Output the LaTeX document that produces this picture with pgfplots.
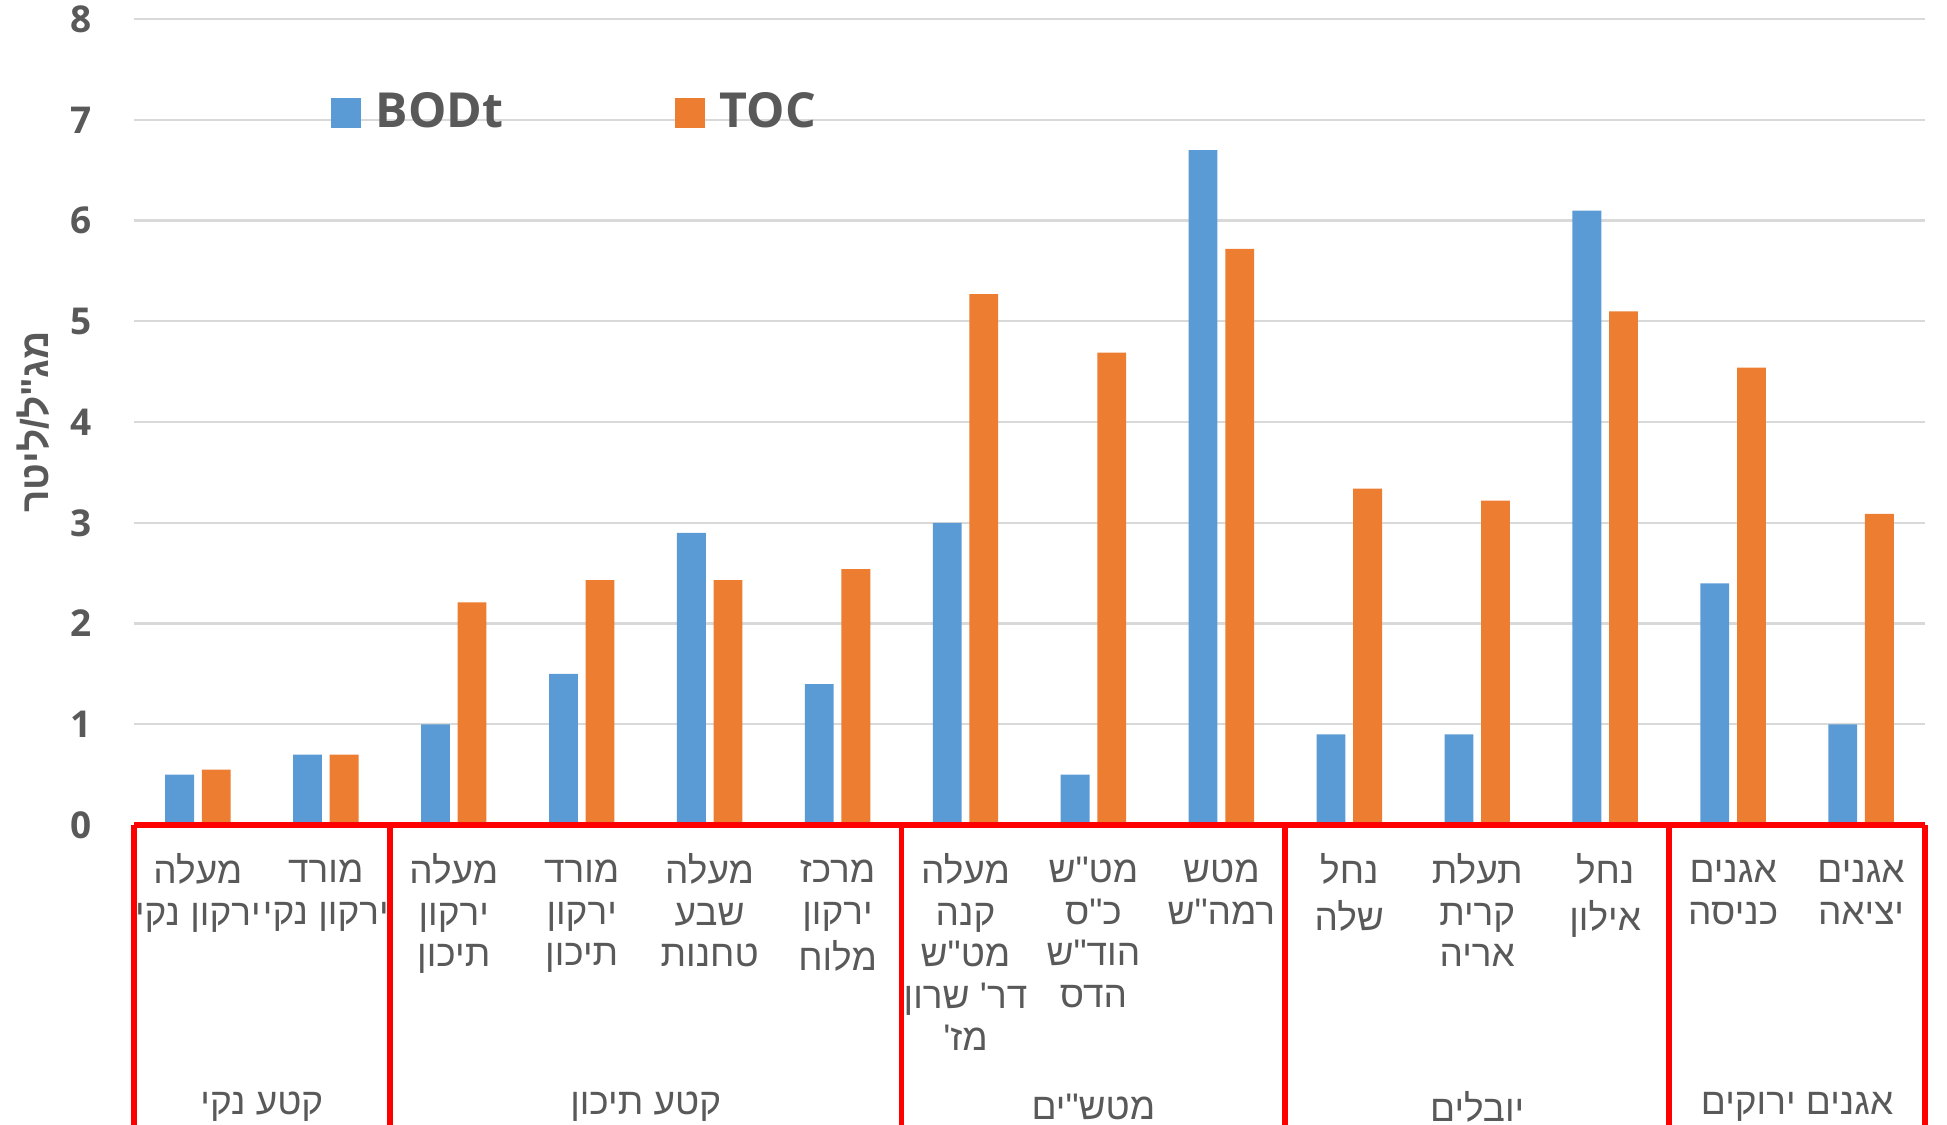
\documentclass[border=0pt]{standalone}
\usepackage{pgfplots}
\pgfplotsset{compat=1.18}
\usepackage{fontspec}
\setmainfont{Open Sans}
\newfontfamily\hebfont[Script=Hebrew]{Liberation Sans}
\TeXXeTstate=1
% Hebrew font plus a strut so every line has the same height
\newcommand{\hf}{\hebfont\strut}
\definecolor{txt}{HTML}{595959}
\definecolor{bodblue}{HTML}{5B9BD5}
\definecolor{tocorange}{HTML}{ED7D31}
\definecolor{gridgray}{HTML}{D9D9D9}

\begin{document}
\begin{tikzpicture}
\begin{axis}[
  name=ax,
  scale only axis, width=460pt, height=207pt,
  ybar=2pt, bar width=7.4pt,
  xmin=-0.5, xmax=13.5, ymin=0, ymax=8,
  xtick={0,...,13},
  xticklabels={
    {{\hf\beginR מעלה\endR}\\{\hf\beginR ירקון נקי\endR}},
    {{\hf\beginR מורד\endR}\\{\hf\beginR ירקון נקי\endR}},
    {{\hf\beginR מעלה\endR}\\{\hf\beginR ירקון\endR}\\{\hf\beginR תיכון\endR}},
    {{\hf\beginR מורד\endR}\\{\hf\beginR ירקון\endR}\\{\hf\beginR תיכון\endR}},
    {{\hf\beginR מעלה\endR}\\{\hf\beginR שבע\endR}\\{\hf\beginR טחנות\endR}},
    {{\hf\beginR מרכז\endR}\\{\hf\beginR ירקון\endR}\\{\hf\beginR מלוח\endR}},
    {{\hf\beginR מעלה\endR}\\{\hf\beginR קנה\endR}\\{\hf\beginR מט"ש\endR}\\{\hf\beginR דר' שרון\endR}\\{\hf\beginR מז'\endR}},
    {{\hf\beginR מט"ש\endR}\\{\hf\beginR כ"ס\endR}\\{\hf\beginR הוד"ש\endR}\\{\hf\beginR הדס\endR}},
    {{\hf\beginR מטש\endR}\\{\hf\beginR רמה"ש\endR}},
    {{\hf\beginR נחל\endR}\\{\hf\beginR שלה\endR}},
    {{\hf\beginR תעלת\endR}\\{\hf\beginR קרית\endR}\\{\hf\beginR אריה\endR}},
    {{\hf\beginR נחל\endR}\\{\hf\beginR אילון\endR}},
    {{\hf\beginR אגנים\endR}\\{\hf\beginR כניסה\endR}},
    {{\hf\beginR אגנים\endR}\\{\hf\beginR יציאה\endR}}
  },
  xticklabel style={align=center, anchor=north, yshift=0.5pt,
    font=\fontsize{9.5}{10.7}\selectfont, text=txt},
  ytick={0,...,8},
  yticklabel style={anchor=east, xshift=-7.4pt, font=\fontsize{9.5}{11}\selectfont\bfseries, text=txt},
  /pgf/number format/assume math mode=true,
  ymajorgrids, grid style={gridgray, line width=0.6pt},
  axis line style={draw=none},
  tick style={draw=none},
  ylabel={\hebfont\beginR מג"ל/ליטר\endR},
  ylabel style={at={(axis description cs:-0.056,0.5)}, anchor=center,
    font=\fontsize{10}{12}\selectfont\bfseries, text=txt},
  legend style={at={(axis cs:0.94,7.07)}, anchor=west, draw=none, fill=none,
    legend columns=-1, font=\fontsize{12.4}{14}\selectfont\bfseries, text=txt,
    /tikz/every even column/.append style={column sep=42pt}},
  legend image code/.code={\fill[#1,draw=none] (0pt,-3.85pt) rectangle (7.7pt,3.85pt);
    \path (9.6pt,0pt);},
  clip=false,
]
\addplot[fill=bodblue, draw=none] coordinates {
  (0,0.5) (1,0.7) (2,1.0) (3,1.5) (4,2.9) (5,1.4) (6,3.0)
  (7,0.5) (8,6.7) (9,0.9) (10,0.9) (11,6.1) (12,2.4) (13,1.0)};
\addplot[fill=tocorange, draw=none] coordinates {
  (0,0.55) (1,0.7) (2,2.21) (3,2.43) (4,2.43) (5,2.54) (6,5.27)
  (7,4.69) (8,5.72) (9,3.34) (10,3.22) (11,5.1) (12,4.54) (13,3.09)};
\legend{BODt, TOC}

% red frame under the axis
\draw[red, line width=1.5pt] (axis cs:-0.5,0) -- (axis cs:13.5,0);
\draw[red, line width=1.5pt] (axis cs:-0.5,0) -- ([yshift=-80pt]axis cs:-0.5,0);
\draw[red, line width=1.5pt] (axis cs:1.5,0) -- ([yshift=-80pt]axis cs:1.5,0);
\draw[red, line width=1.5pt] (axis cs:5.5,0) -- ([yshift=-80pt]axis cs:5.5,0);
\draw[red, line width=1.5pt] (axis cs:8.5,0) -- ([yshift=-80pt]axis cs:8.5,0);
\draw[red, line width=1.5pt] (axis cs:11.5,0) -- ([yshift=-80pt]axis cs:11.5,0);
\draw[red, line width=1.5pt] (axis cs:13.5,0) -- ([yshift=-80pt]axis cs:13.5,0);

% group names
\tikzset{grp/.style={text=txt, font=\fontsize{9.5}{10.7}\selectfont}}
\node[grp] at ([yshift=-72.3pt]axis cs:0.5,0) {\hebfont\beginR קטע נקי\endR};
\node[grp] at ([yshift=-72.3pt]axis cs:3.5,0) {\hebfont\beginR קטע תיכון\endR};
\node[grp] at ([yshift=-72.3pt]axis cs:7,0) {\hebfont\beginR מטש"ים\endR};
\node[grp] at ([yshift=-72.3pt]axis cs:10,0) {\hebfont\beginR יובלים\endR};
\node[grp] at ([yshift=-72.3pt]axis cs:12.5,0) {\hebfont\beginR אגנים ירוקים\endR};
\end{axis}
\pgfresetboundingbox
\path[use as bounding box] ([xshift=-34.4pt,yshift=-77pt]ax.south west)
  rectangle ([xshift=5.65pt,yshift=4.9pt]ax.north east);
\end{tikzpicture}
\end{document}
